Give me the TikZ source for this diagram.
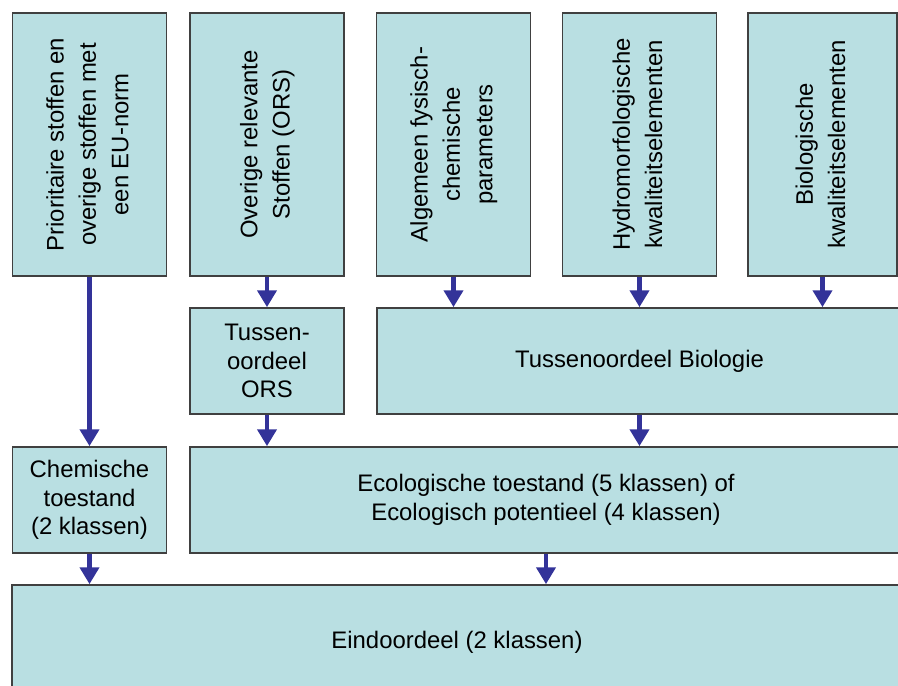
\documentclass[tikz,border=0pt]{standalone}
\usepackage{fontspec}
\setmainfont{Liberation Sans}
\usetikzlibrary{arrows.meta}
\definecolor{boxfill}{RGB}{185,223,226}
\definecolor{boxline}{RGB}{64,64,64}
\definecolor{arrowblue}{RGB}{51,51,153}
\newcommand{\vtext}[1]{\rotatebox{90}{\fontsize{17}{23}\selectfont\begin{tabular}{@{}c@{}}#1\end{tabular}}}
\begin{document}
\begin{tikzpicture}[
  box/.style={draw=boxline, line width=0.04cm, fill=boxfill, inner sep=0pt,
    align=center, font=\fontsize{17}{20.5}\selectfont},
  tall/.style={box, minimum width=3.85cm, minimum height=6.575cm},
  mid/.style={box, minimum height=2.65cm},
  arr/.style={draw=arrowblue, line width=0.11cm, -{Triangle[width=0.47cm,length=0.42cm]}}
]
\clip (0,0) rectangle (22.45,17.15);
% bovenste rij
\node[tall] (prio) at (2.2375,13.5375) {\vtext{Prioritaire stoffen en\\overige stoffen met\\een EU-norm}};
\node[tall] (ors) at (6.675,13.5375) {\vtext{Overige relevante\\Stoffen (ORS)}};
\node[tall] (fyschem) at (11.3375,13.5375) {\vtext{Algemeen fysisch-\\chemische\\parameters}};
\node[tall] (hydro) at (15.9875,13.5375) {\vtext{Hydromorfologische\\kwaliteitselementen}};
\node[tall, minimum width=3.725cm] (biol) at (20.5625,13.5375) {\vtext{Biologische\\kwaliteitselementen}};
% tussenoordelen
\node[mid, minimum width=3.85cm] (tors) at (6.675,8.125) {Tussen-\\oordeel\\ORS};
\node[mid, minimum width=13.125cm] (tbio) at (15.9875,8.125) {Tussenoordeel Biologie};
% toestand
\node[mid, minimum width=3.85cm] (chem) at (2.2375,4.65) {Chemische\\toestand\\(2 klassen)};
\node[mid, minimum width=17.8cm] (eco) at (13.65,4.65) {Ecologische toestand (5 klassen) of\\Ecologisch potentieel (4 klassen)};
% eindoordeel
\node[box, minimum width=22.25cm, minimum height=2.875cm] (eind) at (11.425,1.0875) {Eindoordeel (2 klassen)};
% pijlen
\draw[arr] (prio.south) -- (chem.north);
\draw[arr] (ors.south) -- (tors.north);
\foreach \n in {fyschem,hydro,biol} \draw[arr] (\n.south) -- (\n.south |- tbio.north);
\draw[arr] (tors.south) -- (tors.south |- eco.north);
\draw[arr] (tbio.south) -- (tbio.south |- eco.north);
\draw[arr] (chem.south) -- (chem.south |- eind.north);
\draw[arr] (eco.south) -- (eco.south |- eind.north);
\end{tikzpicture}
\end{document}
